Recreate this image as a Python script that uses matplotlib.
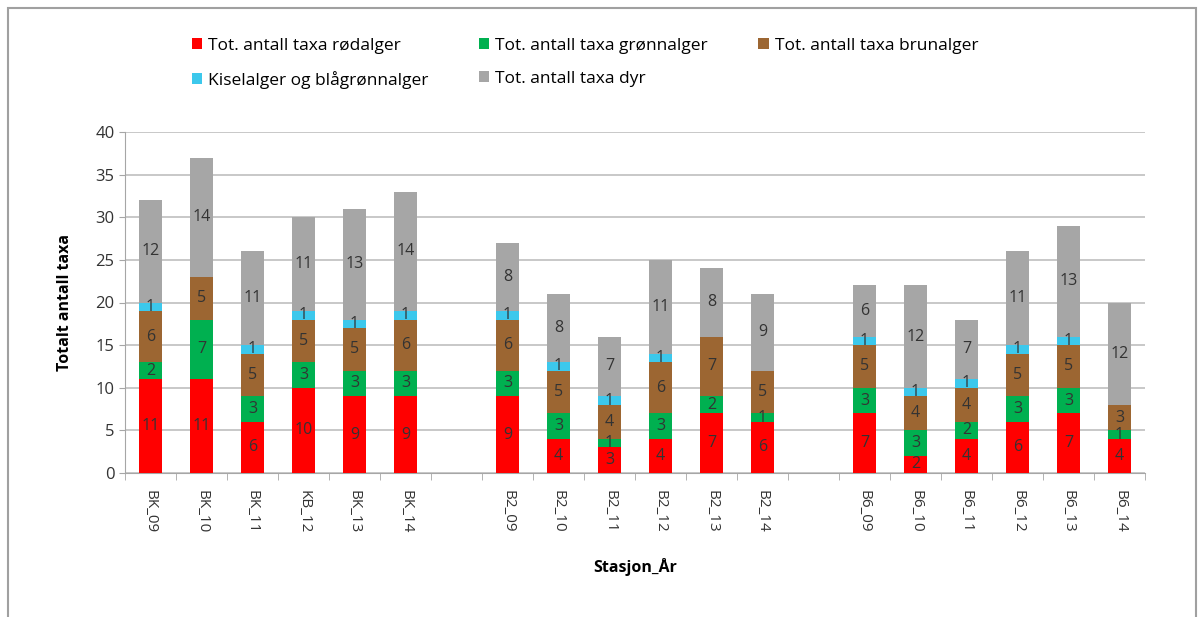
import matplotlib
matplotlib.use("Agg")
import matplotlib.pyplot as plt
import numpy as np
from matplotlib.patches import Rectangle

plt.rcParams['font.family'] = ['Open Sans', 'DejaVu Sans']

stations = ["BK_09", "BK_10", "BK_11", "KB_12", "BK_13", "BK_14", "",
            "B2_09", "B2_10", "B2_11", "B2_12", "B2_13", "B2_14", "",
            "B6_09", "B6_10", "B6_11", "B6_12", "B6_13", "B6_14"]
rod = [11, 11, 6, 10, 9, 9, 0, 9, 4, 3, 4, 7, 6, 0, 7, 2, 4, 6, 7, 4]
gronn = [2, 7, 3, 3, 3, 3, 0, 3, 3, 1, 3, 2, 1, 0, 3, 3, 2, 3, 3, 1]
brun = [6, 5, 5, 5, 5, 6, 0, 6, 5, 4, 6, 7, 5, 0, 5, 4, 4, 5, 5, 3]
kisel = [1, 0, 1, 1, 1, 1, 0, 1, 1, 1, 1, 0, 0, 0, 1, 1, 1, 1, 1, 0]
dyr = [12, 14, 11, 11, 13, 14, 0, 8, 8, 7, 11, 8, 9, 0, 6, 12, 7, 11, 13, 12]

series = [
    ("Tot. antall taxa rødalger", rod, "#FF0000"),
    ("Tot. antall taxa grønnalger", gronn, "#00B050"),
    ("Tot. antall taxa brunalger", brun, "#9C6632"),
    ("Kiselalger og blågrønnalger", kisel, "#3CC8EC"),
    ("Tot. antall taxa dyr", dyr, "#A6A6A6"),
]

fig = plt.figure(figsize=(12.03, 6.17), dpi=100)
ax = fig.add_axes([125/1203, 1-473/617, (1145-125)/1203, (473-132)/617])

x = np.arange(len(stations))
bottom = np.zeros(len(stations))
handles = []
for name, vals, col in series:
    vals = np.array(vals, dtype=float)
    bars = ax.bar(x, vals, 0.46, bottom=bottom, color=col, label=name, zorder=3)
    handles.append(bars)
    for xi, b, v in zip(x, bottom, vals):
        if v > 0:
            ax.text(xi, b + v/2, f"{int(v)}", ha="center", va="center",
                    fontsize=11.5, color="#333333", zorder=4)
    bottom += vals

ax.set_xlim(-0.5, len(stations) - 0.5)
ax.set_ylim(0, 40)
ax.set_yticks(np.arange(0, 41, 5))
ax.yaxis.grid(True, color="#BFBFBF", linewidth=1.2, zorder=0)
ax.set_axisbelow(True)
for s in ["top", "right"]:
    ax.spines[s].set_visible(False)
ax.spines["left"].set_color("#A6A6A6")
ax.spines["bottom"].set_color("#A6A6A6")
ax.tick_params(axis="y", length=4, color="#A6A6A6", labelsize=12, labelcolor="#333333")
ax.set_xticks(x)
ax.set_xticklabels(stations, rotation=-90, fontsize=11, color="#333333")
ax.tick_params(axis="x", length=0, pad=12)
ax.set_xticks(np.arange(-0.5, len(stations), 1), minor=True)
ax.tick_params(axis="x", which="minor", length=5, color="#A6A6A6")

ax.set_ylabel("Totalt antall taxa", fontsize=11.5, fontweight="bold", labelpad=16)
ax.set_xlabel("Stasjon_År", fontsize=11.5, fontweight="bold", labelpad=18)

order = [0, 3, 1, 4, 2]
fig.legend([handles[i] for i in order], [series[i][0] for i in order],
           ncol=3, loc="upper left", bbox_to_anchor=(176/1203, 1-22/617),
           frameon=False, fontsize=12.5, handlelength=0.6, handleheight=0.6,
           handletextpad=0.35, columnspacing=2.9, labelspacing=1.0)

fig.patches.append(Rectangle((8/1203, -0.1), (1196-8)/1203, 1.1 - 8/617,
                             transform=fig.transFigure, fill=False,
                             edgecolor="#A0A0A0", linewidth=1.5))

fig.savefig("out.png", dpi=100)
